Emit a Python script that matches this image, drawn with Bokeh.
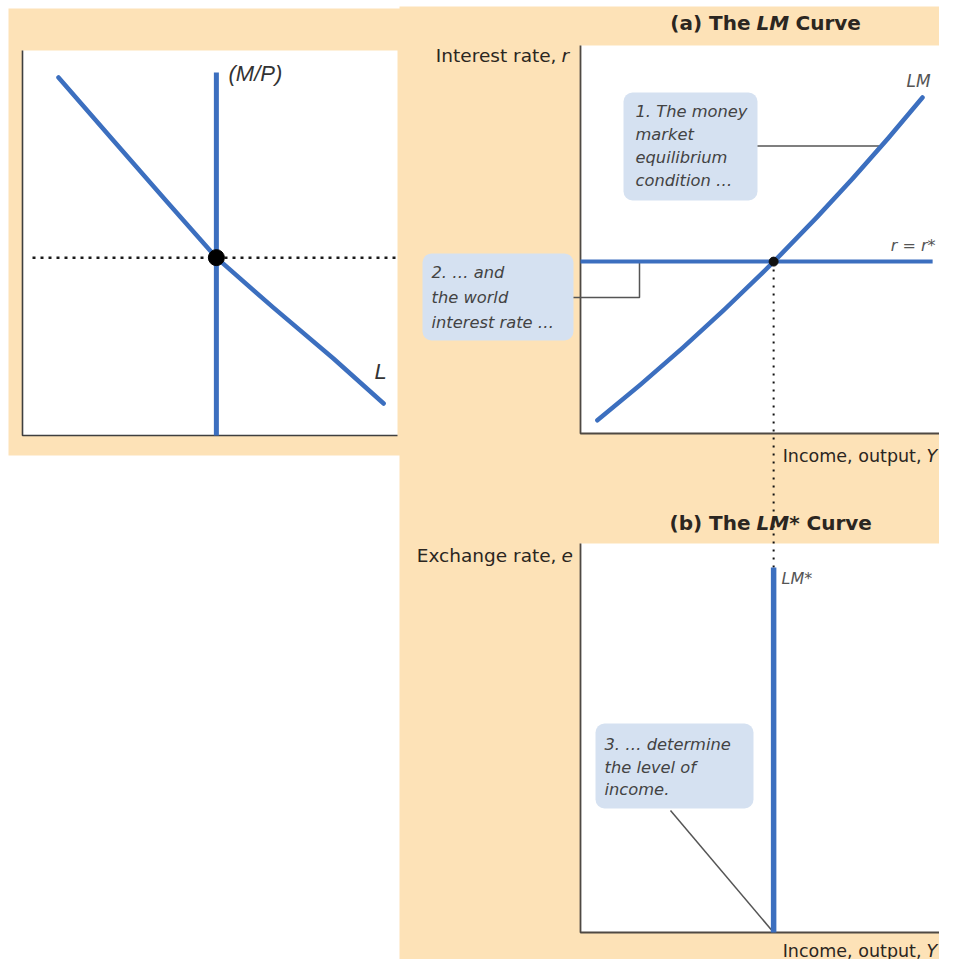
import numpy as np
from bokeh.plotting import figure
from bokeh.models import Range1d
from bokeh.embed import file_html
from bokeh.resources import INLINE
from bokeh.core.properties import value

# ---------------- data (conceptual units: every axis runs 0-100) ----------------
# Left panel: money market (x = real money balances, y = interest rate)
money_supply = 51.7          # (M/P)
money_supply_top = 94.3
L_money = [9.6, 24.0, 38.7, 51.7, 66.9, 82.9, 96.3]
L_rate = [93.0, 76.9, 60.5, 46.2, 33.2, 20.0, 8.3]
r_money_eq = 46.2

# Panel (a): LM curve (x = income Y, y = interest rate r), drawn as a smooth curve
LM_income = [4.5, 91.2]          # start, end
LM_rate = [3.4, 86.6]
LM_bend = [51.9, 40.4]           # curve control point (income, rate)
LM_leader_at = [80.0, 74.1]      # point on LM where note 1 points
r_world = 44.3
r_world_end = 93.9
Y_eq = 51.5

# Panel (b): LM* curve (x = income Y, y = exchange rate e)
LMstar_top = 93.8

# texts
title_a = ["(a) The", "LM", "Curve"]
title_b = ["(b) The", "LM*", "Curve"]
ann1 = ["1. The money", "market", "equilibrium", "condition \u2026"]
ann2 = ["2. \u2026 and", "the world", "interest rate \u2026"]
ann3 = ["3. \u2026 determine", "the level of", "income."]

# ---------------- layout / styles ----------------
W, H = 939, 959
OX, OY = 0, 0
PEACH = "#FDE2B7"
BLUE = "#3C6FBF"
BOXC = "#D5E1F1"
AXIS = "#4f4943"
LEADER = "#555555"
TEXT = "#2b2621"
ANN = "#434343"


class Panel:
    def __init__(self, key, sx0, sx1, sy0, sy1, xmax=100.0, ymax=100.0):
        self.sx0, self.sy0 = sx0, sy0
        self.kx = (sx1 - sx0) / xmax
        self.ky = (sy0 - sy1) / ymax
        self.xn, self.yn = key + "x", key + "y"

    def ux(self, sx):
        return (sx - self.sx0) / self.kx

    def uy(self, sy):
        return (self.sy0 - sy) / self.ky

    def sy(self, uy):
        return self.sy0 - uy * self.ky

    def x_range(self):
        return Range1d(self.ux(OX), self.ux(OX + W))

    def y_range(self):
        return Range1d(self.uy(OY + H), self.uy(OY))

    def kw(self):
        return dict(x_range_name=self.xn, y_range_name=self.yn)


PL = Panel("l", 22, 397, 435, 50)
PA = Panel("a", 580, 955, 433, 45)
PB = Panel("b", 580, 955, 932, 543)

p = figure(width=W, height=H, x_range=Range1d(OX, OX + W), y_range=Range1d(OY + H, OY),
           x_axis_type=None, y_axis_type=None, toolbar_location=None,
           output_backend="svg", min_border=0, outline_line_color=None,
           background_fill_color="white", border_fill_color="white")
p.extra_x_ranges = {P.xn: P.x_range() for P in (PL, PA, PB)}
p.extra_y_ranges = {P.yn: P.y_range() for P in (PL, PA, PB)}

# backgrounds (screen-like canvas coordinates)
p.quad(left=[8, 399], right=[401, 955], top=[8, 6], bottom=[455, 975],
       fill_color=PEACH, line_color=None)

for P in (PL, PA, PB):
    p.quad(left=[0], right=[100], bottom=[0], top=[100], fill_color="white",
           line_color=None, **P.kw())

# ---------- left panel ----------
p.line([PL.ux(32), PL.ux(395)], [r_money_eq, r_money_eq], line_color="#1a1a1a",
       line_width=2.5, line_dash="3 5", **PL.kw())
p.line([0, 0, 100], [100, 0, 0], line_color="#3f3f3f", line_width=1.6, **PL.kw())
p.line([money_supply, money_supply], [0, money_supply_top], line_color=BLUE,
       line_width=5, **PL.kw())
p.line(L_money, L_rate, line_color=BLUE, line_width=4.5, line_cap="round",
       line_join="round", **PL.kw())
p.scatter([money_supply], [r_money_eq], size=16, color="black", **PL.kw())

# ---------- panel (a) ----------
p.line([0, 0, 100], [100, 0, 0], line_color=AXIS, line_width=1.8, **PA.kw())
# annotation boxes and leaders
p.quad(left=[PA.ux(623)], right=[PA.ux(757)], top=[PA.uy(92)], bottom=[PA.uy(200)],
       fill_color=BOXC, line_color=None, border_radius=9, **PA.kw())
p.line([PA.ux(757), LM_leader_at[0]], [LM_leader_at[1], LM_leader_at[1]],
       line_color=LEADER, line_width=1.5, **PA.kw())
p.quad(left=[PA.ux(422)], right=[PA.ux(573)], top=[PA.uy(253)], bottom=[PA.uy(340)],
       fill_color=BOXC, line_color=None, border_radius=9, **PA.kw())
p.line([PA.ux(573), PA.ux(639), PA.ux(639)], [PA.uy(297), PA.uy(297), r_world],
       line_color=LEADER, line_width=1.5, **PA.kw())
# dotted connector down to LM*
p.line([Y_eq, Y_eq], [r_world, PA.uy(PB.sy(LMstar_top))], line_color="#111111",
       line_width=2, line_dash="2 6", **PA.kw())
p.line([0, r_world_end], [r_world, r_world], line_color=BLUE, line_width=4, **PA.kw())
p.quadratic(x0=[LM_income[0]], y0=[LM_rate[0]], x1=[LM_income[1]], y1=[LM_rate[1]],
            cx=[LM_bend[0]], cy=[LM_bend[1]], line_color=BLUE, line_width=4.5,
            line_cap="round", **PA.kw())
p.scatter([Y_eq], [r_world], size=9, color="#111111", **PA.kw())

# ---------- panel (b) ----------
p.line([0, 0, 100], [100, 0, 0], line_color=AXIS, line_width=1.8, **PB.kw())
p.quad(left=[PB.ux(595)], right=[PB.ux(753)], top=[PB.uy(723)], bottom=[PB.uy(808)],
       fill_color=BOXC, line_color=None, border_radius=9, **PB.kw())
p.line([PB.ux(670), Y_eq], [PB.uy(810), 0], line_color=LEADER, line_width=1.5,
       **PB.kw())
p.line([Y_eq, Y_eq], [0, LMstar_top], line_color=BLUE, line_width=5.5, **PB.kw())


# ---------- texts ----------
def txt(x, y, s, size, style="normal", font="DejaVu Sans", color=TEXT, align="left"):
    p.text(x=[x], y=[y], text=[s], text_font=value(font), text_font_size=f"{size}px",
           text_font_style=style, text_color=color, text_align=align,
           text_baseline="middle")


# left panel labels (Arial-like)
txt(228, 73, "(M/P)", 22, "italic", "Liberation Sans", "#333333")
txt(374, 371, "L", 22, "italic", "Liberation Sans", "#333333")

# titles
for y, parts, cx in ((22, title_a, 795), (522, title_b, 806)):
    txt(750, y, parts[0], 20, "bold", align="right")
    txt(756, y, parts[1], 20, "bold italic")
    txt(cx, y, parts[2], 20, "bold")

# axis labels
txt(556, 55, "Interest rate,", 18.5, align="right")
txt(561, 55, "r", 18.5, "italic")
txt(556, 555, "Exchange rate,", 18.5, align="right")
txt(561, 555, "e", 18.5, "italic")
for y in (455, 950):
    txt(921, y, "Income, output,", 17.5, align="right")
    txt(926, y, "Y", 17.5, "italic")

# curve labels
txt(906, 80, "LM", 17, "italic", color="#555555")
txt(935, 245, "r = r*", 16, "italic", color="#555555", align="right")
txt(781, 578, "LM*", 16, "italic", color="#555555")

# annotations
for i, s in enumerate(ann1):
    txt(635, 111 + 23 * i, s, 16.3, "italic", color=ANN)
for i, s in enumerate(ann2):
    txt(431, 272 + 25 * i, s, 16.3, "italic", color=ANN)
for i, s in enumerate(ann3):
    txt(604, 744 + 22.5 * i, s, 16.3, "italic", color=ANN)

open("out.html", "w").write(file_html(p, INLINE))
